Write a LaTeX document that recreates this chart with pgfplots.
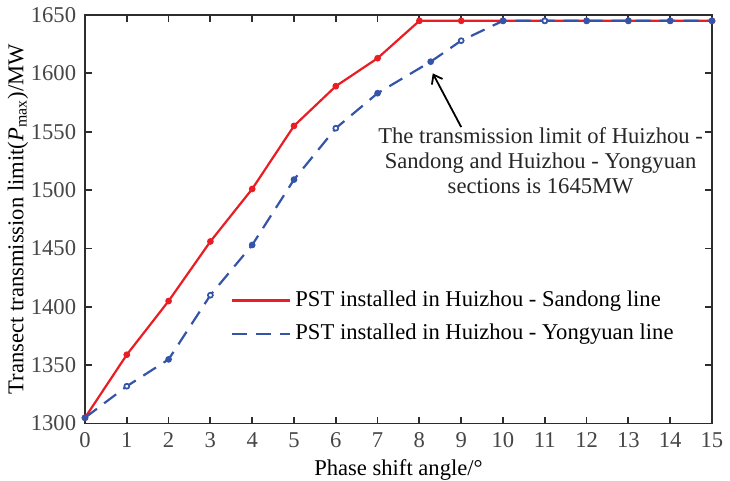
\documentclass[border=0pt]{standalone}
\usepackage{fontspec}
\setmainfont{Liberation Serif}
\usepackage{pgfplots}
\pgfplotsset{compat=1.18}
\usetikzlibrary{calc,arrows.meta}
\definecolor{cred}{RGB}{232,30,36}
\definecolor{cblue}{RGB}{52,84,168}
\definecolor{axgray}{RGB}{45,45,45}
\definecolor{tkgray}{RGB}{70,70,70}
\newcommand{\fs}{\fontsize{11.3pt}{13.5pt}\selectfont}
\begin{document}
\fs
\begin{tikzpicture}
\begin{axis}[
  name=ax,
  scale only axis,
  width=313.5pt, height=204.3pt,
  xmin=0, xmax=15, ymin=1300, ymax=1650,
  xtick={0,1,...,15},
  ytick={1300,1350,...,1650},
  tick align=inside,
  major tick length=3.5pt,
  axis line style={axgray, line width=0.9pt},
  every tick/.style={axgray, line width=0.9pt},
  tick label style={font=\fs, text=tkgray},
  /pgf/number format/assume math mode=true,
  /pgf/number format/1000 sep={},
  xticklabel style={yshift=-0.5pt},
  yticklabel style={xshift=-0.5pt},
  xlabel={Phase shift angle/°},
  ylabel={Transect transmission limit(\textit{P}\textsubscript{max})/MW},
  label style={font=\fs},
  xlabel style={yshift=2pt},
  ylabel style={at={(axis description cs:-0.107,0.5)}, anchor=center},
  legend style={draw=none, fill=none, at={(0.223,0.345)}, anchor=north west,
    font=\fs, row sep=3pt},
  legend cell align=left,
  legend image code/.code={\draw[#1, mark=none] (0pt,0pt) -- (29pt,0pt);},
]
\addplot[cred, line width=1.1pt, mark=*, mark size=1.1pt] coordinates {
 (0,1305) (1,1359) (2,1405) (3,1456) (4,1501) (5,1555) (6,1589) (7,1613) (8,1645)
 (9,1645) (10,1645) (11,1645) (12,1645) (13,1645) (14,1645) (15,1645)};
\addlegendentry{PST installed in Huizhou - Sandong line}
\addplot[cblue, line width=1.1pt, dash pattern=on 7.5pt off 4.5pt, mark=*, mark size=1.1pt, mark options={solid}] coordinates {
 (0,1305) (1,1332) (2,1355) (3,1410) (4,1453) (5,1509) (6,1553) (7,1583) (8.27,1610)
 (9,1628) (10,1645) (11,1645) (12,1645) (13,1645) (14,1645) (15,1645)};
\addlegendentry{PST installed in Huizhou - Yongyuan line}
\addplot[only marks, cblue, mark=*, mark size=1.1pt, mark options={fill=white, line width=0.6pt}, forget plot] coordinates {
 (1,1332) (3,1410) (6,1553) (9,1628) (11,1645)};
\draw[-{Straight Barb[length=4pt,width=6pt]}, line width=0.9pt, black] (axis cs:9.0,1554) -- (axis cs:8.32,1600);
\node[inner sep=0pt, text=black!85] at (axis cs:10.9,1523)
 {\fontsize{11.3pt}{12.5pt}\selectfont\renewcommand{\arraystretch}{1}\begin{tabular}{@{}c@{}}The transmission limit of Huizhou -\\Sandong and Huizhou - Yongyuan\\sections is 1645MW\end{tabular}};
\coordinate (bl) at (rel axis cs:0,0);
\coordinate (tr) at (rel axis cs:1,1);
\end{axis}
\pgfresetboundingbox
\path ($(bl)+(-42.5pt,-28.5pt)$) rectangle ($(tr)+(9pt,7.5pt)$);
\end{tikzpicture}
\end{document}
